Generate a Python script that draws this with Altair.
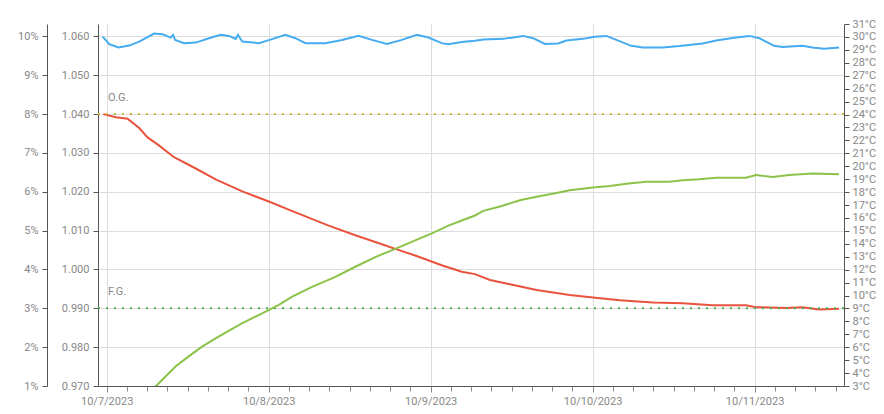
import altair as alt
import pandas as pd

# ---- data (hours after 2023-10-07 00:00) ----
temp_hours = [-0.59, 0.38, 1.77, 3.34, 4.82, 7.03, 8.28, 9.50, 9.84, 10.14, 11.47, 13.20, 15.16,
              16.89, 18.12, 19.11, 19.45, 20.10, 22.55, 24.03, 26.50, 27.97, 29.45, 32.41, 34.88,
              37.33, 39.31, 41.53, 43.74, 45.96, 47.67, 49.65, 50.63, 52.61, 54.58, 55.80, 58.76,
              61.71, 63.19, 64.92, 66.89, 68.13, 70.58, 72.31, 74.04, 75.52, 77.73, 79.45, 82.40,
              84.87, 88.31, 90.30, 93.25, 95.22, 96.69, 98.91, 100.14, 103.09, 104.57, 106.30, 108.52]
temp_values = [30.02, 29.44, 29.18, 29.33, 29.64, 30.26, 30.21, 29.95, 30.16, 29.77, 29.52, 29.56, 29.90,
               30.16, 30.08, 29.85, 30.16, 29.64, 29.52, 29.75, 30.16, 29.90, 29.52, 29.52, 29.77,
               30.08, 29.77, 29.46, 29.77, 30.16, 29.95, 29.52, 29.44, 29.60, 29.70, 29.80, 29.85,
               30.08, 29.90, 29.46, 29.49, 29.72, 29.85, 30.02, 30.08, 29.77, 29.31, 29.18, 29.18,
               29.29, 29.49, 29.72, 29.95, 30.08, 29.90, 29.31, 29.23, 29.31, 29.18, 29.08, 29.18]

grav_hours = [-0.50, 1.37, 3.10, 4.82, 6.06, 7.54, 9.99, 13.20, 16.15, 20.10, 24.03, 27.97, 32.90,
              36.84, 40.79, 42.75, 45.71, 49.65, 52.61, 54.58, 56.79, 59.75, 63.69, 68.61, 72.06,
              76.00, 80.92, 85.36, 89.79, 94.73, 96.20, 100.64, 103.09, 105.56, 108.52]
grav_values = [1.0400, 1.0392, 1.0388, 1.0364, 1.0340, 1.0322, 1.0289, 1.0260, 1.0232, 1.0201, 1.0175,
               1.0147, 1.0113, 1.0088, 1.0065, 1.0053, 1.0036, 1.0011, 0.9994, 0.9988, 0.9973, 0.9962,
               0.9947, 0.9934, 0.9928, 0.9921, 0.9915, 0.9913, 0.9908, 0.9908, 0.9903, 0.9901, 0.9903,
               0.9897, 0.9899]

abv_hours = [-0.59, 1.37, 3.10, 4.82, 6.06, 7.54, 8.76, 10.24, 12.21, 14.19, 16.64, 20.10, 23.05,
             25.51, 27.49, 30.44, 33.89, 36.84, 39.80, 42.75, 45.71, 48.18, 50.63, 52.61, 54.58,
             55.80, 58.27, 61.22, 63.69, 66.65, 68.61, 72.06, 74.53, 77.00, 79.95, 83.39, 85.36,
             87.82, 90.29, 94.73, 96.20, 98.66, 101.13, 104.57, 108.52]
abv_values = [0.0, 0.10, 0.16, 0.47, 0.79, 1.04, 1.25, 1.51, 1.77, 2.02, 2.28, 2.62, 2.87,
              3.09, 3.30, 3.55, 3.81, 4.07, 4.32, 4.53, 4.75, 4.93, 5.13, 5.26, 5.39,
              5.51, 5.62, 5.78, 5.87, 5.97, 6.04, 6.11, 6.15, 6.21, 6.26, 6.26, 6.30,
              6.32, 6.36, 6.36, 6.43, 6.38, 6.43, 6.47, 6.45]

og_value = 1.040
fg_value = 0.990
ref_labels = ["O.G.", "F.G."]

day_ticks = [7, 8, 9, 10, 11]          # dates in October 2023 with labels
minor_step_hours = 3

base = pd.Timestamp("2023-10-07 00:00:00")
def times(hs):
    return [(base + pd.Timedelta(hours=h)).strftime("%Y-%m-%dT%H:%M:%S") for h in hs]

temp_df = pd.DataFrame({"t": times(temp_hours), "v": temp_values})
grav_df = pd.DataFrame({"t": times(grav_hours), "v": grav_values})
abv_df = pd.DataFrame({"t": times(abv_hours), "v": abv_values})
ref_df = pd.DataFrame({"label": ref_labels, "v": [og_value, fg_value],
                       "t": times([0.2, 0.2])})

FONT = "Roboto"
LBL = "#888888"
DOMAIN = "#555555"

x_scale = alt.Scale(
    domain=[alt.DateTime(year=2023, month=10, date=6, hours=22, minutes=43),
            alt.DateTime(year=2023, month=10, date=11, hours=13, minutes=15)],
    nice=False,
)

major_values = [alt.DateTime(year=2023, month=10, date=d) for d in day_ticks]
minor_values = [alt.DateTime(year=2023, month=10, date=d, hours=h)
                for d in [6] + day_ticks for h in range(0, 24, minor_step_hours)]

x_main = alt.X("t:T", title=None, scale=x_scale, axis=alt.Axis(
    orient="bottom", values=major_values, format="%-m/%-d/%Y", labelOverlap=False, labelFlush=False,
    tickSize=6, grid=True, gridColor="#dddddd",
    domainColor=DOMAIN, tickColor="#888888",
    labelColor=LBL, labelFont=FONT, labelFontSize=11, labelPadding=3))

x_minor = alt.X("t:T", title=None, scale=x_scale, axis=alt.Axis(
    orient="bottom", values=minor_values, labels=False, tickSize=5, grid=False, domain=False,
    tickColor="#888888"))

x_none = alt.X("t:T", title=None, scale=x_scale, axis=None)

grav_scale = alt.Scale(domain=[0.970, 1.0632], nice=False, zero=False)

grav_line = alt.Chart(grav_df).mark_line(color="#e9533d", strokeWidth=2, clip=True).encode(
    x=x_main,
    y=alt.Y("v:Q", title=None, scale=grav_scale,
            axis=alt.Axis(orient="left", offset=0,
                          values=[0.97, 0.98, 0.99, 1.0, 1.01, 1.02, 1.03, 1.04, 1.05, 1.06],
                          format=".3f", grid=True, gridColor="#dddddd",
                          domainColor=DOMAIN, tickColor=DOMAIN, tickSize=5,
                          labelColor=LBL, labelFont=FONT, labelFontSize=11, labelPadding=4)),
)

og_rule = alt.Chart(ref_df.iloc[[0]]).mark_rule(strokeWidth=2, strokeDash=[2, 6], color="#cbb83a").encode(
    y=alt.Y("v:Q", scale=grav_scale, axis=None),
)
fg_rule = alt.Chart(ref_df.iloc[[1]]).mark_rule(strokeWidth=2, strokeDash=[2, 6], color="#4caf50").encode(
    y=alt.Y("v:Q", scale=grav_scale, axis=None),
)

ref_text = alt.Chart(ref_df).mark_text(
    align="left", baseline="middle", dy=-16, font=FONT, fontSize=11, color="#888888"
).encode(
    x=x_none,
    y=alt.Y("v:Q", scale=grav_scale, axis=None),
    text="label:N",
)

abv_line = alt.Chart(abv_df).mark_line(color="#8bc34a", strokeWidth=2, clip=True).encode(
    x=x_none,
    y=alt.Y("v:Q", title=None, scale=alt.Scale(domain=[1, 10.32], nice=False, zero=False),
            axis=alt.Axis(orient="left", offset=51, values=list(range(1, 11)),
                          labelExpr="datum.value + '%'", grid=False,
                          domainColor=DOMAIN, tickColor=DOMAIN, tickSize=5,
                          labelColor=LBL, labelFont=FONT, labelFontSize=11, labelPadding=4)),
)

temp_line = alt.Chart(temp_df).mark_line(color="#45acf0", strokeWidth=2, clip=True).encode(
    x=x_minor,
    y=alt.Y("v:Q", title=None, scale=alt.Scale(domain=[3, 31], nice=False, zero=False),
            axis=alt.Axis(orient="right", values=list(range(3, 32)),
                          labelExpr="datum.value + '°C'", grid=False,
                          domainColor=DOMAIN, tickColor=DOMAIN, tickSize=5,
                          labelColor=LBL, labelFont=FONT, labelFontSize=11, labelPadding=3)),
)

chart = alt.layer(grav_line, og_rule, fg_rule, ref_text, abv_line, temp_line).resolve_scale(
    x="independent", y="independent"
).properties(
    width=868, height=398,
    padding={"left": 9, "top": 10, "right": 0, "bottom": 0},
    autosize=alt.AutoSizeParams(type="fit", contains="padding"),
).configure_view(stroke=None)

chart.save("out.html", embed_options={"renderer": "svg", "actions": False})
